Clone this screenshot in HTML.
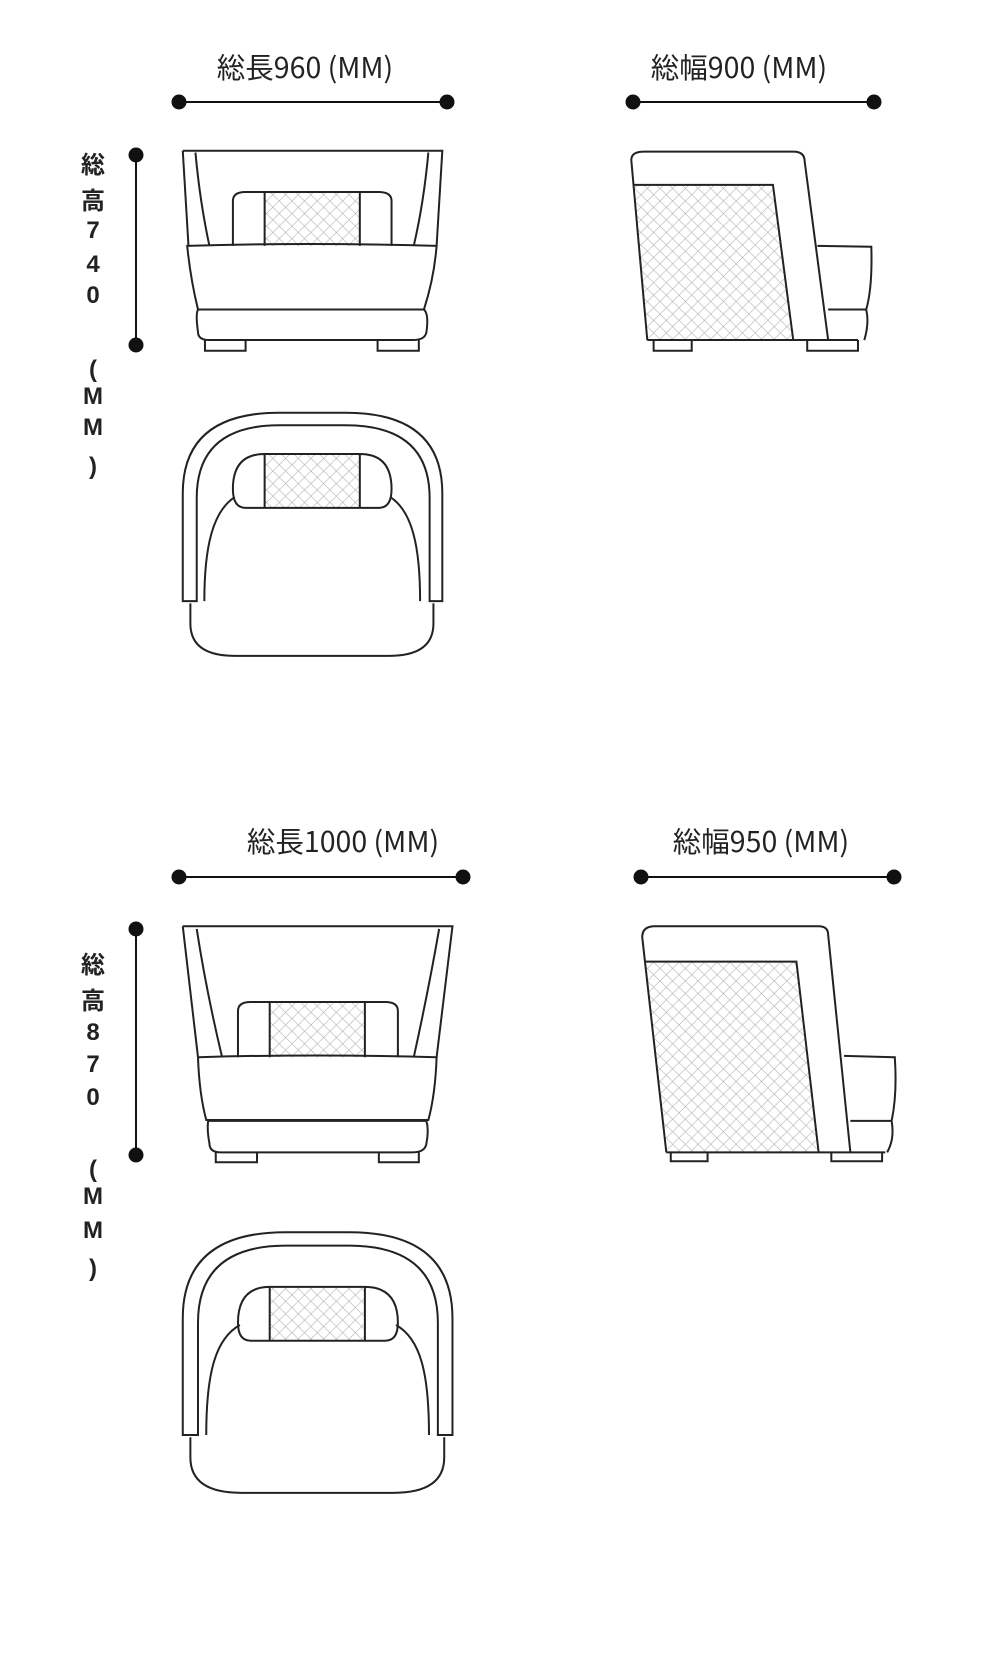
<!DOCTYPE html>
<html><head><meta charset="utf-8"><style>
html,body{margin:0;padding:0;background:#fff;}
body{width:990px;height:1661px;position:relative;overflow:hidden;font-family:"Liberation Sans","Noto Sans CJK JP",sans-serif;}
.t{position:absolute;font-family:"Noto Sans CJK JP","Liberation Sans",sans-serif;font-size:28.5px;color:#222;white-space:nowrap;transform:translateX(-50%);line-height:1;}
.v{position:absolute;font-family:"Liberation Sans","Noto Sans CJK JP",sans-serif;font-weight:bold;font-size:24px;color:#222;transform:translate(-50%,-50%);line-height:1;}
svg{position:absolute;left:0;top:0;}
</style></head><body>
<svg width="990" height="1661" viewBox="0 0 990 1661">
<defs>
<pattern id="h" patternUnits="userSpaceOnUse" width="20" height="28">
<path d="M0,0 L20,28 M20,0 L0,28 M-10,14 L0,28 M10,-14 L30,14" stroke="#aaa" stroke-width="1" fill="none"/>
</pattern>
</defs>
<g stroke="#222" stroke-width="2" fill="none">
<g transform="scale(0.6346,0.4486)">
<path vector-effect="non-scaling-stroke" d="M288,336 L697,336 L688,548 M288,336 L297,548 M308,340 Q315,450 330,548 M675,340 Q668,450 652,548"/>
<rect x="417" y="428" width="150" height="120" fill="url(#h)" stroke="none"/>
<path vector-effect="non-scaling-stroke" d="M367,548 L367,448 Q367,428 387,428 L597,428 Q617,428 617,448 L617,548 M417,428 L417,548 M567,428 L567,548"/>
<path vector-effect="non-scaling-stroke" d="M295,548 Q480,540 688,548 Q684,620 668,690 L312,690 Q300,620 295,548 Z"/>
<path vector-effect="non-scaling-stroke" d="M312,690 L668,690 Q676,700 672,740 Q670,758 650,758 L330,758 Q312,758 312,740 Q308,700 312,690 Z"/>
<path vector-effect="non-scaling-stroke" d="M323,758 L323,782 L387,782 L387,758 M595,758 L595,782 L660,782 L660,758"/>
<path d="M998,412 L1218,412 L1250,758 L1022,758 Z" fill="url(#h)" stroke="none"/>
<path vector-effect="non-scaling-stroke" d="M1020,758 L995,360 Q993,338 1015,338 L1250,338 Q1268,338 1268,360 L1305,758 M998,412 L1218,412 L1250,758 M1020,758 L1352,758"/>
<path vector-effect="non-scaling-stroke" d="M1288,548 L1373,550 Q1375,640 1365,690 L1305,690 M1365,690 Q1370,720 1362,758"/>
<path vector-effect="non-scaling-stroke" d="M1030,758 L1030,782 L1090,782 L1090,758 M1272,758 L1272,782 L1352,782 L1352,758"/>
<path vector-effect="non-scaling-stroke" d="M288,1340 L288,1100 Q288,920 440,920 L545,920 Q697,920 697,1100 L697,1340 L677,1340 L677,1110 Q677,948 545,948 L440,948 Q310,948 310,1110 L310,1340 Z"/>
<path vector-effect="non-scaling-stroke" d="M300,1345 L300,1390 Q300,1462 370,1462 L613,1462 Q683,1462 683,1390 L683,1345"/>
<path vector-effect="non-scaling-stroke" d="M322,1340 C322,1220 335,1140 370,1108 M615,1108 C650,1140 662,1220 662,1340"/>
<rect x="417" y="1012" width="150" height="120" fill="url(#h)" stroke="none"/>
<path vector-effect="non-scaling-stroke" d="M417,1012 L567,1012 Q617,1012 617,1090 Q617,1132 597,1132 L387,1132 Q367,1132 367,1090 Q367,1012 417,1012 Z M417,1012 L417,1132 M567,1012 L567,1132"/>
</g>
<g transform="translate(0,780) scale(0.6346,0.4486)">
<path vector-effect="non-scaling-stroke" d="M288,326 L713,326 L688,618 M288,326 L312,618 M310,332 Q325,470 350,618 M692,332 Q675,470 652,618"/>
<rect x="425" y="495" width="150" height="123" fill="url(#h)" stroke="none"/>
<path vector-effect="non-scaling-stroke" d="M375,618 L375,515 Q375,495 395,495 L607,495 Q627,495 627,515 L627,618 M425,495 L425,618 M575,495 L575,618"/>
<path vector-effect="non-scaling-stroke" d="M312,618 Q500,610 688,618 Q686,700 675,758 L325,758 Q314,700 312,618 Z"/>
<path vector-effect="non-scaling-stroke" d="M328,760 L672,760 Q676,780 672,810 Q670,830 650,830 L348,830 Q330,830 330,810 Q326,780 328,760 Z"/>
<path vector-effect="non-scaling-stroke" d="M340,830 L340,852 L405,852 L405,830 M597,830 L597,852 L660,852 L660,830"/>
<path d="M1015,405 L1255,405 L1290,830 L1050,830 Z" fill="url(#h)" stroke="none"/>
<path vector-effect="non-scaling-stroke" d="M1050,830 L1012,350 Q1012,326 1032,326 L1290,326 Q1305,326 1305,345 L1340,830 M1015,405 L1255,405 L1290,830 M1050,830 L1395,830"/>
<path vector-effect="non-scaling-stroke" d="M1330,615 L1410,618 Q1414,700 1405,760 L1340,760 M1405,760 Q1410,800 1398,830"/>
<path vector-effect="non-scaling-stroke" d="M1057,830 L1057,850 L1115,850 L1115,830 M1310,830 L1310,850 L1390,850 L1390,830"/>
<path vector-effect="non-scaling-stroke" d="M288,1460 L288,1200 Q288,1008 450,1008 L550,1008 Q713,1008 713,1200 L713,1460 L690,1460 L690,1210 Q690,1038 550,1038 L450,1038 Q312,1038 312,1210 L312,1460 Z"/>
<path vector-effect="non-scaling-stroke" d="M300,1465 L300,1510 Q300,1589 380,1589 L620,1589 Q700,1589 700,1510 L700,1465"/>
<path vector-effect="non-scaling-stroke" d="M325,1460 C325,1320 340,1245 378,1215 M624,1215 C662,1245 676,1320 676,1460"/>
<rect x="425" y="1130" width="150" height="120" fill="url(#h)" stroke="none"/>
<path vector-effect="non-scaling-stroke" d="M425,1130 L575,1130 Q627,1130 627,1210 Q627,1250 607,1250 L395,1250 Q375,1250 375,1210 Q375,1130 425,1130 Z M425,1130 L425,1250 M575,1130 L575,1250"/>
</g>
</g>
<g stroke="#111" stroke-width="2" fill="#111">
<line x1="179" y1="102" x2="447" y2="102"/><circle cx="179" cy="102" r="6.5"/><circle cx="447" cy="102" r="6.5"/>
<line x1="633" y1="102" x2="874" y2="102"/><circle cx="633" cy="102" r="6.5"/><circle cx="874" cy="102" r="6.5"/>
<line x1="136" y1="155" x2="136" y2="345"/><circle cx="136" cy="155" r="6.5"/><circle cx="136" cy="345" r="6.5"/>
<line x1="179" y1="877" x2="463" y2="877"/><circle cx="179" cy="877" r="6.5"/><circle cx="463" cy="877" r="6.5"/>
<line x1="641" y1="877" x2="894" y2="877"/><circle cx="641" cy="877" r="6.5"/><circle cx="894" cy="877" r="6.5"/>
<line x1="136" y1="929" x2="136" y2="1155"/><circle cx="136" cy="929" r="6.5"/><circle cx="136" cy="1155" r="6.5"/>
</g>
</svg>
<div class="t" style="left:305px;top:53px">総長960 (MM)</div>
<div class="t" style="left:739px;top:53px">総幅900 (MM)</div>
<div class="t" style="left:343px;top:827px">総長1000 (MM)</div>
<div class="t" style="left:761px;top:827px">総幅950 (MM)</div>
<div class="v" style="left:93px;top:166px">総</div>
<div class="v" style="left:93px;top:202px">高</div>
<div class="v" style="left:93px;top:231px">7</div>
<div class="v" style="left:93px;top:265px">4</div>
<div class="v" style="left:93px;top:296px">0</div>
<div class="v" style="left:93px;top:370px">(</div>
<div class="v" style="left:93px;top:397px">M</div>
<div class="v" style="left:93px;top:428px">M</div>
<div class="v" style="left:93px;top:467px">)</div>
<div class="v" style="left:93px;top:966px">総</div>
<div class="v" style="left:93px;top:1002px">高</div>
<div class="v" style="left:93px;top:1033px">8</div>
<div class="v" style="left:93px;top:1065px">7</div>
<div class="v" style="left:93px;top:1098px">0</div>
<div class="v" style="left:93px;top:1170px">(</div>
<div class="v" style="left:93px;top:1197px">M</div>
<div class="v" style="left:93px;top:1231px">M</div>
<div class="v" style="left:93px;top:1269px">)</div>
</body></html>
